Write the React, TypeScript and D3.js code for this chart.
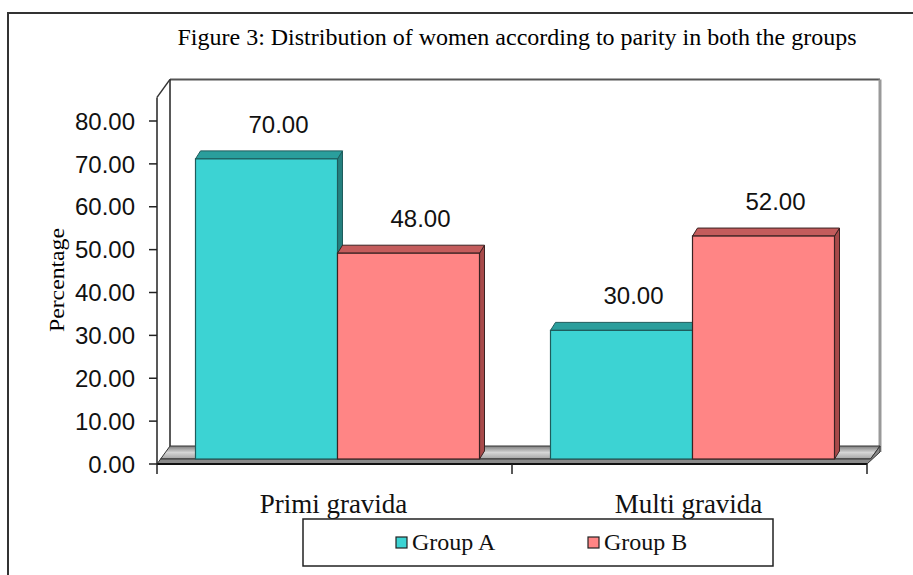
import React from 'react'
import * as d3 from 'd3'

const categories = ['Primi gravida', 'Multi gravida']
const groups = ['Group A', 'Group B']
const groupA = [70, 30]
const groupB = [48, 52]
const yTicks = [0, 10, 20, 30, 40, 50, 60, 70, 80]

const width = 913
const height = 575

const x0 = 157
const x1 = 867
const depth = { x: 13, y: -18 }
const barShift = { x: 3, y: -5 }
const barDepth = { x: 5, y: -8 }
const axisMax = 85.5

const colors = {
  'Group A': { front: '#3cd3d3', top: '#2a9e9c', side: '#24807f', stroke: '#1e5c5c' },
  'Group B': { front: '#ff8585', top: '#c45c5c', side: '#a84a4a', stroke: '#3a2222' }
}

const serif = '"Liberation Serif", "Times New Roman", serif'
const sans = '"Liberation Sans", Arial, sans-serif'

const App = () => {
  const x = d3.scaleBand().domain(categories).range([x0, x1])
  const groupW = x.bandwidth() * 0.8
  const xg = d3.scaleBand().domain(groups).range([0, groupW])
  const y = d3.scaleLinear().domain([0, 80]).range([464, 121])

  const y0 = y(0)
  const yTop = y(axisMax)

  const bars = categories.flatMap((c, i) =>
    groups.map(g => {
      const v = g === 'Group A' ? groupA[i] : groupB[i]
      const bx = (x(c) as number) + x.bandwidth() * 0.1 + (xg(g) as number) + barShift.x
      const by = y(v) + barShift.y
      const bb = y0 + barShift.y
      return { c, g, v, bx, by, bb, bw: xg.bandwidth() }
    })
  )

  const pts = (p: number[][]) => p.map(d => d.join(',')).join(' ')

  return (
    <svg width={width} height={height} style={{ position: 'absolute', left: 0, top: 0 }}>
      <defs>
        <linearGradient id="floorTop" x1="0" y1="0" x2="0" y2="1">
          <stop offset="0%" stopColor="#7c7c7c" />
          <stop offset="50%" stopColor="#d6d6d6" />
          <stop offset="100%" stopColor="#a4a4a4" />
        </linearGradient>
      </defs>
      <rect x={0} y={0} width={width} height={height} fill="#fff" />
      {/* outer border */}
      <rect x={8} y={13} width={width + 10} height={height + 10} fill="none" stroke="#333" strokeWidth={2} />

      {/* title */}
      <text x={517} y={45} textAnchor="middle" fontFamily={serif} fontSize={23} textLength={679} lengthAdjust="spacingAndGlyphs">
        Figure 3: Distribution of women according to parity in both the groups
      </text>

      {/* back wall */}
      <line x1={x0 + depth.x} y1={yTop + depth.y} x2={x1 + depth.x} y2={yTop + depth.y} stroke="#555" strokeWidth={2} />
      <line x1={x0 + depth.x} y1={yTop + depth.y} x2={x0 + depth.x} y2={y0 + depth.y} stroke="#222" strokeWidth={1.5} />
      <line x1={x1 + depth.x} y1={yTop + depth.y} x2={x1 + depth.x} y2={y0 + depth.y + 6} stroke="#999" strokeWidth={3} />
      <line x1={x0} y1={yTop} x2={x0 + depth.x} y2={yTop + depth.y} stroke="#333" strokeWidth={1.5} />

      {/* floor */}
      <polygon
        points={pts([[x0 + 3.6, y0 - 5], [x1 + 3.6, y0 - 5], [x1 + depth.x, y0 + depth.y], [x0 + depth.x, y0 + depth.y]])}
        fill="url(#floorTop)"
        stroke="#333"
        strokeWidth={1}
      />
      <polygon
        points={pts([[x0, y0], [x1, y0], [x1 + depth.x, y0 + depth.y + 6], [x1 + depth.x, y0 + depth.y], [x1 + 3.6, y0 - 5], [x0 + 3.6, y0 - 5]])}
        fill="#8a8a8a"
        stroke="#333"
        strokeWidth={1}
      />
      <line x1={x0} y1={y0} x2={x1} y2={y0} stroke="#111" strokeWidth={2} />

      {/* bars */}
      {bars.map(b => {
        const col = colors[b.g as 'Group A']
        return (
          <g key={b.c + b.g}>
            <polygon
              points={pts([[b.bx + b.bw, b.by], [b.bx + b.bw + barDepth.x, b.by + barDepth.y], [b.bx + b.bw + barDepth.x, b.bb + barDepth.y], [b.bx + b.bw, b.bb]])}
              fill={col.side}
              stroke={col.stroke}
              strokeWidth={1}
            />
            <polygon
              points={pts([[b.bx, b.by], [b.bx + barDepth.x, b.by + barDepth.y], [b.bx + b.bw + barDepth.x, b.by + barDepth.y], [b.bx + b.bw, b.by]])}
              fill={col.top}
              stroke={col.stroke}
              strokeWidth={1}
            />
            <rect x={b.bx} y={b.by} width={b.bw} height={b.bb - b.by} fill={col.front} stroke={col.stroke} strokeWidth={1.2} />
          </g>
        )
      })}
      {bars.map(b => (
        <text key={'l' + b.c + b.g} x={b.bx + b.bw / 2 + 12} y={b.by + barDepth.y - 18} textAnchor="middle" fontFamily={sans} fontSize={24} fill="#111">
          {b.v.toFixed(2)}
        </text>
      ))}

      {/* y axis */}
      <line x1={x0} y1={yTop} x2={x0} y2={y0} stroke="#222" strokeWidth={1.5} />
      {yTicks.map(t => (
        <g key={t}>
          <line x1={x0 - 8} y1={y(t)} x2={x0} y2={y(t)} stroke="#222" strokeWidth={1.5} />
          <text x={135} y={y(t)} dy="0.36em" textAnchor="end" fontFamily={sans} fontSize={24} fill="#111">
            {t.toFixed(2)}
          </text>
        </g>
      ))}
      <text
        transform={`translate(64,280) rotate(-90)`}
        textAnchor="middle"
        fontFamily={serif}
        fontSize={20}
        textLength={104}
        lengthAdjust="spacingAndGlyphs"
      >
        Percentage
      </text>

      {/* x axis */}
      {[x0, ...categories.map(c => (x(c) as number) + x.bandwidth())].map((t, i) => (
        <line key={i} x1={t} y1={y0} x2={t} y2={y0 + 10} stroke="#222" strokeWidth={1.5} />
      ))}
      {categories.map(c => (
        <text key={c} x={(x(c) as number) + x.bandwidth() / 2 - 1} y={513} textAnchor="middle" fontFamily={serif} fontSize={27} fill="#111">
          {c}
        </text>
      ))}

      {/* legend */}
      <rect x={303} y={519} width={470} height={47} fill="#fff" stroke="#222" strokeWidth={1.5} />
      {groups.map((g, i) => {
        const lx = [396, 588][i]
        return (
          <g key={g}>
            <rect x={lx} y={537} width={11} height={11} fill={colors[g as 'Group A'].front} stroke="#222" strokeWidth={1.2} />
            <text x={lx + 16} y={550} fontFamily={serif} fontSize={24} fill="#111">
              {g}
            </text>
          </g>
        )
      })}
    </svg>
  )
}

export default App
